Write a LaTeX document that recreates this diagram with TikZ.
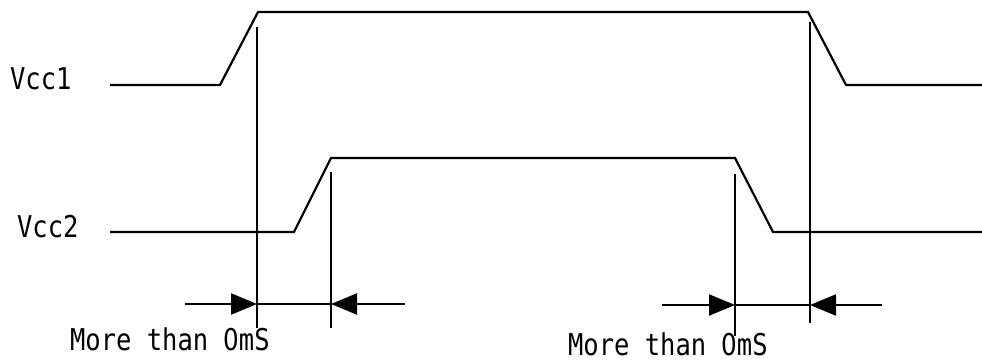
\documentclass[tikz,border=0pt]{standalone}
\usepackage{fontspec}
\newfontfamily\gothicfont[FakeStretch=0.85]{DejaVu Sans Mono}
\newfontfamily\zerofont[FakeStretch=0.82]{DejaVu Sans}
\newcommand\plainzero{{\sbox0{0}\makebox[\wd0]{\zerofont 0}}}
\usetikzlibrary{arrows.meta}

\begin{document}
\begin{tikzpicture}[x=1pt, y=-1pt, line width=2.2pt,
    sigtext/.style={font=\gothicfont\fontsize{30}{30}\selectfont, inner sep=0pt, anchor=base west},
    dimarrow/.style={-{Triangle[length=26pt, width=21pt]}}]
    \useasboundingbox (0,0) rectangle (982,363);

    % Signal names
    \node[sigtext] (vcc1) at (9,90) {Vcc1};
    \node[sigtext] (vcc2) at (16,238) {Vcc2};

    % Vcc1 waveform
    \coordinate (a1) at (110,85);
    \coordinate (a2) at (220,85);
    \coordinate (a3) at (258,12);
    \coordinate (a4) at (808,12);
    \coordinate (a5) at (846,85);
    \coordinate (a6) at (982,85);
    \draw (a1) -- (a2) -- (a3) -- (a4) -- (a5) -- (a6);

    % Vcc2 waveform
    \coordinate (b1) at (110,232);
    \coordinate (b2) at (294,232);
    \coordinate (b3) at (331,158);
    \coordinate (b4) at (735,158);
    \coordinate (b5) at (773,232);
    \coordinate (b6) at (982,232);
    \draw (b1) -- (b2) -- (b3) -- (b4) -- (b5) -- (b6);

    % Timing marks
    \coordinate (m1t) at (257,27);  \coordinate (m1b) at (257,328);
    \coordinate (m2t) at (331,172); \coordinate (m2b) at (331,328);
    \coordinate (m3t) at (735,174); \coordinate (m3b) at (735,336);
    \coordinate (m4t) at (810,22);  \coordinate (m4b) at (810,323);
    \draw (m1t) -- (m1b);
    \draw (m2t) -- (m2b);
    \draw (m3t) -- (m3b);
    \draw (m4t) -- (m4b);

    % Power-on interval
    \coordinate (p1) at (185,304);
    \coordinate (p2) at (257,304);
    \coordinate (p3) at (331,304);
    \coordinate (p4) at (405,304);
    \draw[dimarrow] (p1) -- (p2);
    \draw (p2) -- (p3);
    \draw[dimarrow] (p4) -- (p3);
    \node[sigtext] (t1) at (69,350) {More than \plainzero mS};

    % Power-off interval
    \coordinate (q1) at (662,305);
    \coordinate (q2) at (735,305);
    \coordinate (q3) at (810,305);
    \coordinate (q4) at (882,305);
    \draw[dimarrow] (q1) -- (q2);
    \draw (q2) -- (q3);
    \draw[dimarrow] (q4) -- (q3);
    \node[sigtext] (t2) at (567,355) {More than \plainzero mS};

\end{tikzpicture}
\end{document}
